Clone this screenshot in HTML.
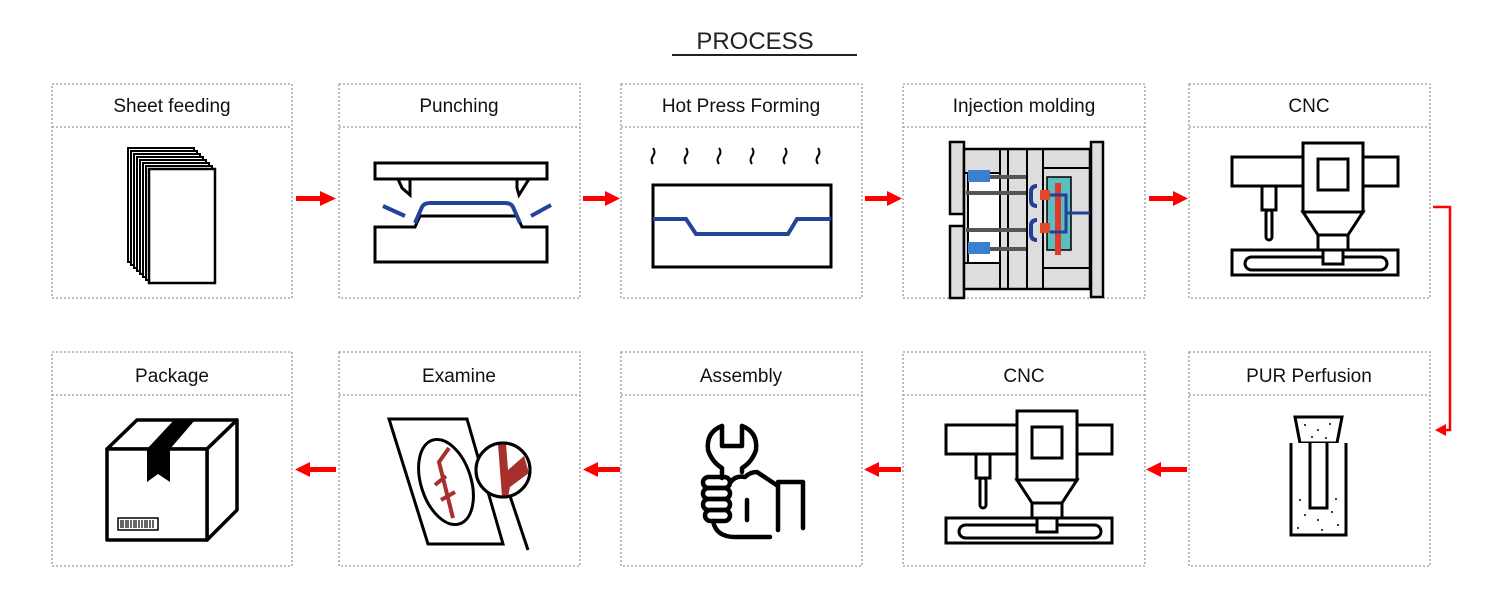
<!DOCTYPE html>
<html><head><meta charset="utf-8"><style>
body{margin:0;background:#fff;}
svg{display:block;font-family:"Liberation Sans","DejaVu Sans",sans-serif;}
</style></head><body>
<svg width="1500" height="614" viewBox="0 0 1500 614" xmlns="http://www.w3.org/2000/svg">
<defs>
<g id="cnc" fill="#fff" stroke="#000" stroke-width="3">
 <rect x="1232" y="157" width="166" height="29"/>
 <rect x="1262" y="186" width="14" height="24"/>
 <rect x="1266" y="210" width="6" height="30" rx="3"/>
 <rect x="1232" y="250" width="166" height="25"/>
 <rect x="1245" y="257" width="142" height="13" rx="6.5"/>
 <polygon points="1303,212 1363,212 1348,235 1318,235"/>
 <rect x="1318" y="235" width="30" height="15"/>
 <rect x="1323" y="250" width="20" height="14"/>
 <rect x="1303" y="143" width="60" height="69"/>
 <rect x="1318" y="159" width="30" height="31"/>
</g>
</defs>
<text x="755" y="49" font-size="24" text-anchor="middle" fill="#222">PROCESS</text>
<line x1="672" y1="55" x2="857" y2="55" stroke="#222" stroke-width="2"/>
<g fill="none" stroke="#999" stroke-width="1.3" stroke-dasharray="2,2">
 <rect x="52" y="84" width="240" height="214"/><line x1="52" y1="127" x2="292" y2="127"/>
 <rect x="339" y="84" width="241" height="214"/><line x1="339" y1="127" x2="580" y2="127"/>
 <rect x="621" y="84" width="241" height="214"/><line x1="621" y1="127" x2="862" y2="127"/>
 <rect x="903" y="84" width="242" height="214"/><line x1="903" y1="127" x2="1145" y2="127"/>
 <rect x="1189" y="84" width="241" height="214"/><line x1="1189" y1="127" x2="1430" y2="127"/>
 <rect x="52" y="352" width="240" height="214"/><line x1="52" y1="395" x2="292" y2="395"/>
 <rect x="339" y="352" width="241" height="214"/><line x1="339" y1="395" x2="580" y2="395"/>
 <rect x="621" y="352" width="241" height="214"/><line x1="621" y1="395" x2="862" y2="395"/>
 <rect x="903" y="352" width="242" height="214"/><line x1="903" y1="395" x2="1145" y2="395"/>
 <rect x="1189" y="352" width="241" height="214"/><line x1="1189" y1="395" x2="1430" y2="395"/>
</g>
<g font-size="19" text-anchor="middle" fill="#111">
 <text x="172" y="112">Sheet feeding</text>
 <text x="459" y="112">Punching</text>
 <text x="741" y="112">Hot Press Forming</text>
 <text x="1024" y="112">Injection molding</text>
 <text x="1309" y="112">CNC</text>
 <text x="172" y="382">Package</text>
 <text x="459" y="382">Examine</text>
 <text x="741" y="382">Assembly</text>
 <text x="1024" y="382">CNC</text>
 <text x="1309" y="382">PUR Perfusion</text>
</g>
<g fill="#f00">
 <rect x="296" y="196" width="26" height="5"/><polygon points="320,191 336,198.5 320,206"/>
 <rect x="583" y="196" width="24" height="5"/><polygon points="605,191 620,198.5 605,206"/>
 <rect x="865" y="196" width="24" height="5"/><polygon points="887,191 902,198.5 887,206"/>
 <rect x="1149" y="196" width="26" height="5"/><polygon points="1173,191 1188,198.5 1173,206"/>
 <rect x="1159" y="467" width="28" height="5"/><polygon points="1161,462 1146,469.5 1161,477"/>
 <rect x="877" y="467" width="24" height="5"/><polygon points="879,462 864,469.5 879,477"/>
 <rect x="596" y="467" width="24" height="5"/><polygon points="598,462 583,469.5 598,477"/>
 <rect x="308" y="467" width="28" height="5"/><polygon points="310,462 295,469.5 310,477"/>
</g>
<polyline points="1433,207 1450,207 1450,430 1442,430" fill="none" stroke="#f00" stroke-width="2.5"/>
<polygon points="1446,424 1435,430 1446,436" fill="#f00"/>
<!-- sheets -->
<g fill="#fff" stroke="#000" stroke-width="2">
 <rect x="128" y="148" width="66" height="114"/><rect x="131" y="151" width="66" height="114"/>
 <rect x="134" y="154" width="66" height="114"/><rect x="137" y="157" width="66" height="114"/>
 <rect x="140" y="160" width="66" height="114"/><rect x="143" y="163" width="66" height="114"/>
 <rect x="146" y="166" width="66" height="114"/><rect x="149" y="169" width="66" height="114" stroke-width="2.5"/>
</g>
<!-- punching -->
<g fill="#fff" stroke="#000" stroke-width="3">
 <rect x="375" y="163" width="172" height="16"/>
 <polygon points="398,179 410,179 410,195 402,188"/>
 <polygon points="517,179 529,179 519,195 517,188"/>
 <path d="M375,227 H415 L420,216 L517,216 L522,227 H547 V262 H375 Z"/>
</g>
<g fill="none" stroke="#24449a" stroke-width="4">
 <path d="M415,223 L422,207 Q424,203 430,203 H505 Q511,203 513,207 L520,223"/>
 <line x1="383" y1="206" x2="405" y2="216"/><line x1="531" y1="216" x2="551" y2="205"/>
</g>
<!-- hot press -->
<g fill="none" stroke="#000" stroke-width="2">
 <path d="M653,148 q3,4 0,8 q-3,4 0,8"/><path d="M686,148 q3,4 0,8 q-3,4 0,8"/>
 <path d="M719,148 q3,4 0,8 q-3,4 0,8"/><path d="M752,148 q3,4 0,8 q-3,4 0,8"/>
 <path d="M785,148 q3,4 0,8 q-3,4 0,8"/><path d="M818,148 q3,4 0,8 q-3,4 0,8"/>
</g>
<rect x="653" y="185" width="178" height="82" fill="#fff" stroke="#000" stroke-width="3"/>
<path d="M653,219 H686 L696,234 H788 L797,219 H831" fill="none" stroke="#24449a" stroke-width="4"/>
<!-- injection molding -->
<g stroke="#000" stroke-width="2.5" fill="#ddd">
 <rect x="950" y="142" width="14" height="72"/><rect x="950" y="226" width="14" height="72"/>
 <rect x="964" y="149" width="126" height="140"/>
 <rect x="1091" y="142" width="12" height="155"/>
</g>
<g stroke="#000" stroke-width="2" fill="none">
 <line x1="1000" y1="149" x2="1000" y2="289"/><line x1="1008" y1="149" x2="1008" y2="289"/>
 <line x1="1027" y1="149" x2="1027" y2="289"/><line x1="1043" y1="149" x2="1043" y2="289"/>
 <line x1="964" y1="173" x2="1000" y2="173"/><line x1="964" y1="263" x2="1000" y2="263"/>
 <line x1="1043" y1="168" x2="1090" y2="168"/><line x1="1043" y1="268" x2="1090" y2="268"/>
 <rect x="968" y="173" width="32" height="90" fill="#fff"/>
</g>
<g fill="#555"><rect x="990" y="175" width="36" height="4"/><rect x="966" y="191" width="60" height="4"/><rect x="966" y="228" width="60" height="4"/><rect x="990" y="247" width="36" height="4"/></g>
<rect x="968" y="170" width="22" height="12" fill="#3a7fd0"/><rect x="968" y="242" width="22" height="12" fill="#3a7fd0"/>
<rect x="1047" y="177" width="24" height="73" fill="#5bbfbf" stroke="#000" stroke-width="1.5"/>
<rect x="1055" y="183" width="6" height="72" fill="#e03a2a"/>
<path d="M1037,186 q-6,0 -6,6 v8 q0,6 6,6 M1037,220 q-6,0 -6,6 v8 q0,6 6,6" stroke="#243f9a" stroke-width="4" fill="none"/>
<rect x="1040" y="190" width="10" height="10" fill="#e04a2a"/><rect x="1040" y="223" width="10" height="10" fill="#e04a2a"/>
<path d="M1050,195 H1066 V232 H1050 M1066,213 H1090" stroke="#243f9a" stroke-width="3" fill="none"/>
<use href="#cnc"/>
<use href="#cnc" transform="translate(-286,268)"/>
<!-- PUR -->
<g stroke="#000" stroke-width="3" fill="#fff">
 <polygon points="1295,417 1342,417 1337,443 1300,443"/>
 <path d="M1291,443 V535 H1346 V443"/>
 <path d="M1310,443 V508 H1327 V443"/>
</g>
<g fill="#000">
 <circle cx="1305" cy="425" r="1"/><circle cx="1318" cy="430" r="1"/><circle cx="1330" cy="424" r="1"/><circle cx="1312" cy="437" r="1"/><circle cx="1326" cy="438" r="1"/>
 <circle cx="1300" cy="500" r="1"/><circle cx="1305" cy="515" r="1"/><circle cx="1318" cy="520" r="1"/><circle cx="1332" cy="512" r="1"/><circle cx="1338" cy="525" r="1"/><circle cx="1298" cy="528" r="1"/><circle cx="1336" cy="499" r="1"/><circle cx="1322" cy="530" r="1"/>
</g>
<!-- assembly -->
<g fill="none" stroke="#000" stroke-width="4.5" stroke-linecap="round" stroke-linejoin="round">
 <path d="M722,426 Q706,432 708,450 Q712,462 722,468 V478 M742,426 Q758,432 756,450 Q752,462 742,468 V472"/>
 <path d="M722,426 V446 H742 V426"/>
 <rect x="703" y="477" width="27" height="11" rx="5.5"/>
 <rect x="703" y="488" width="27" height="11" rx="5.5"/>
 <rect x="703" y="499" width="27" height="11" rx="5.5"/>
 <rect x="705" y="510" width="25" height="11" rx="5.5"/>
 <path d="M713,521 Q716,537 735,537 H770"/>
 <path d="M730,483 Q735,475 745,477 Q750,472 757,472 L778,486"/>
 <path d="M747,500 V520"/>
 <path d="M778,530 V482 H803 V497 M803,497 V528"/>
</g>
<!-- examine -->
<g fill="none" stroke="#000" stroke-width="3">
 <polygon points="389,419 467,419 503,544 428,544"/>
 <ellipse cx="446" cy="482" rx="25" ry="44" transform="rotate(-18 446 482)"/>
</g>
<path d="M449,448 L439,462 L453,518 M435,485 L446,476 M441,500 L455,492" stroke="#a8302c" stroke-width="4" fill="none"/>
<line x1="510" y1="496" x2="528" y2="550" stroke="#000" stroke-width="3"/>
<circle cx="503" cy="470" r="27" fill="#fff" stroke="#000" stroke-width="3"/>
<path d="M498,444 L506,443 L508,470 L524,456 L529,473 L510,487 L508,497 L502,497 Z" fill="#a8302c"/>
<circle cx="503" cy="470" r="27" fill="none" stroke="#000" stroke-width="3"/>
<!-- package -->
<g stroke="#000" stroke-width="3.5" fill="#fff" stroke-linejoin="round">
 <polygon points="107,449 137,420 237,420 207,449"/>
 <polygon points="207,449 237,420 237,510 207,540"/>
 <rect x="107" y="449" width="100" height="91"/>
</g>
<polygon points="147,449 170,449 195,420 174,420" fill="#000"/>
<polygon points="147,449 170,449 170,482 158,474 147,482" fill="#000"/>
<rect x="118" y="518" width="40" height="12" fill="#fff" stroke="#000" stroke-width="1.5"/>
<path d="M121,520v8M123,520v8M126,520v8M128,520v8M131,520v8M134,520v8M136,520v8M139,520v8M142,520v8M145,520v8M147,520v8M150,520v8M153,520v8" stroke="#000" stroke-width="1.2"/>
</svg>
</body></html>
